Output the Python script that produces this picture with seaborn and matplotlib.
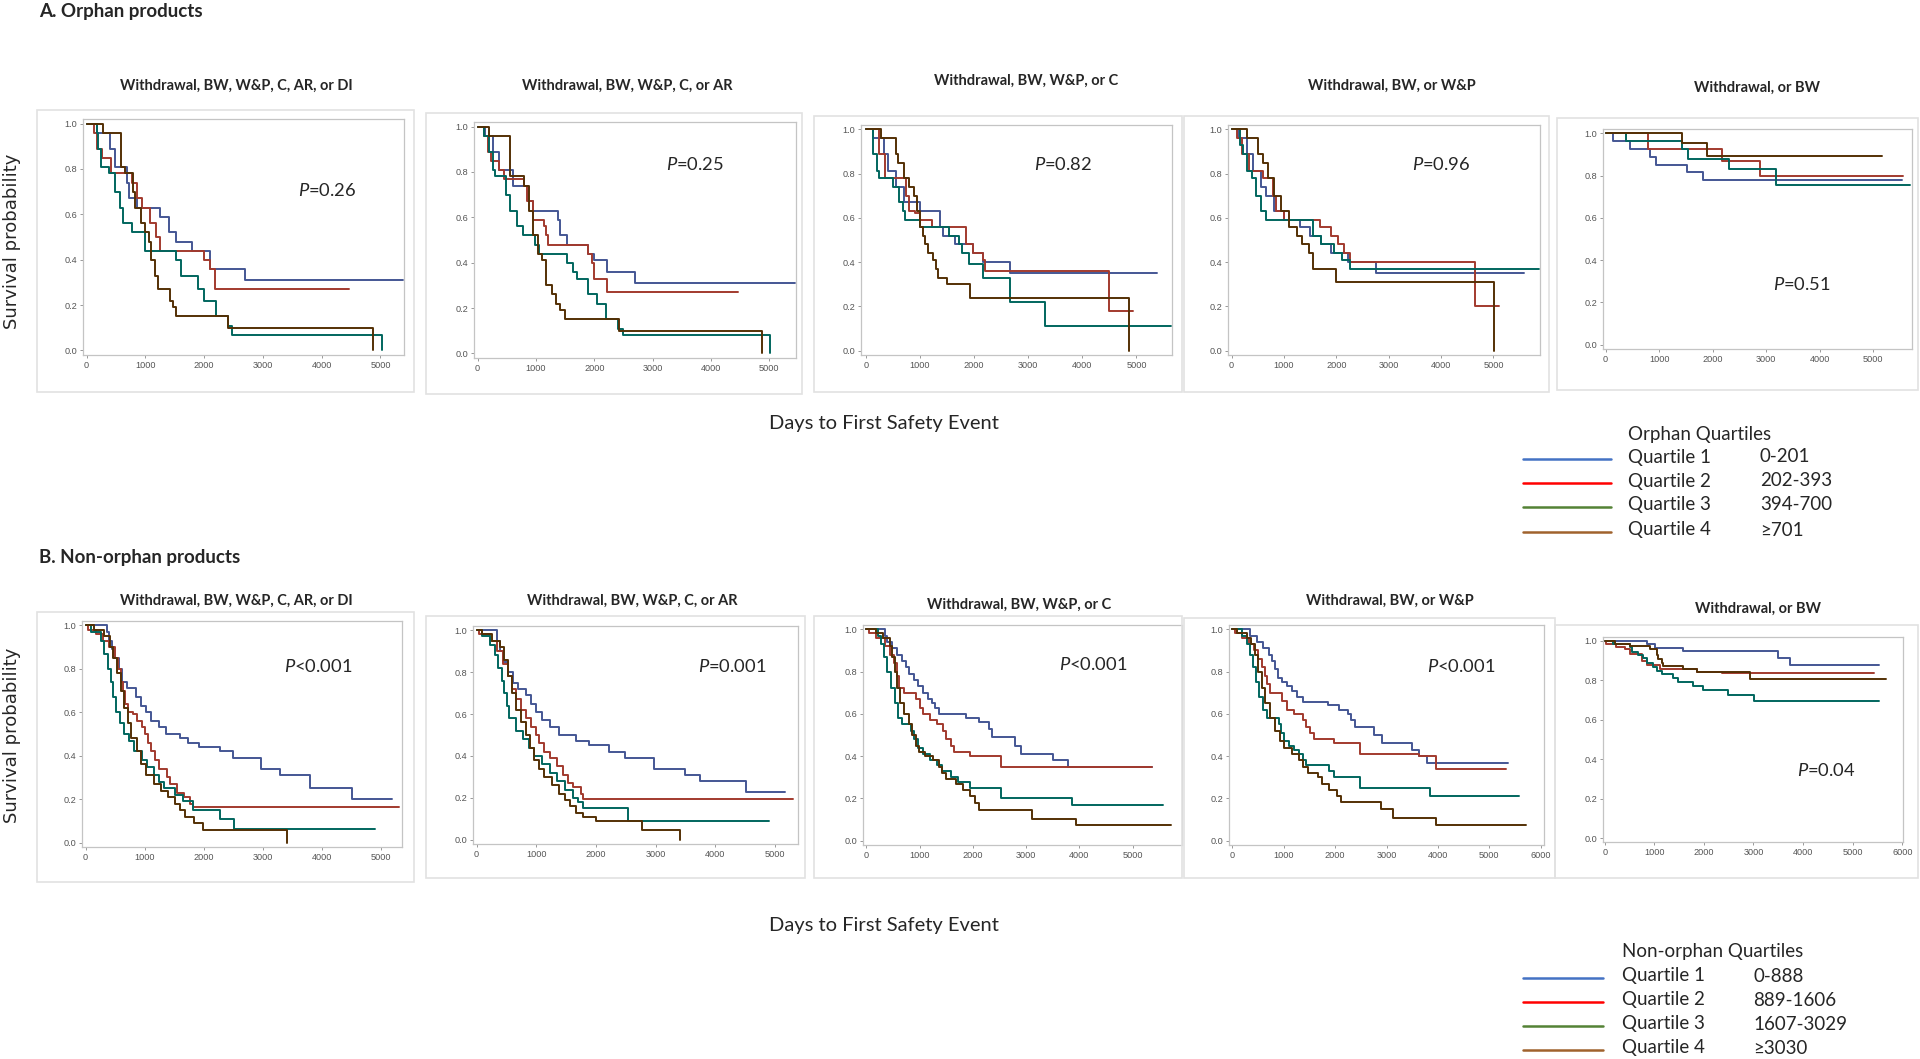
import matplotlib
matplotlib.use("Agg")
import matplotlib.pyplot as plt
from matplotlib.patches import Rectangle
from matplotlib.lines import Line2D
import pandas as pd
import seaborn as sns

# ---- Kaplan-Meier steps: (days, survival after that day) ----
# A. Orphan products
A1_Q1 = [(0, 1.0), (180, 0.96), (400, 0.89), (480, 0.81), (680, 0.74), (720, 0.67), (850, 0.63), (1250, 0.59),
         (1400, 0.52), (1520, 0.48), (1800, 0.44), (2100, 0.36), (2690, 0.31), (5390, 0.31)]
A1_Q2 = [(0, 1.0), (120, 0.96), (170, 0.89), (260, 0.85), (420, 0.78), (780, 0.74), (850, 0.67), (950, 0.63),
         (1080, 0.56), (1180, 0.50), (1250, 0.44), (2000, 0.40), (2100, 0.36), (2180, 0.27), (4460, 0.27)]
A1_Q3 = [(0, 1.0), (170, 0.96), (200, 0.89), (250, 0.81), (380, 0.78), (480, 0.70), (560, 0.63), (620, 0.56),
         (770, 0.52), (1000, 0.44), (1525, 0.40), (1600, 0.33), (1900, 0.27), (2000, 0.22), (2200, 0.15),
         (2400, 0.11), (2480, 0.07), (5020, 0.0)]
A1_Q4 = [(0, 1.0), (270, 0.96), (580, 0.81), (660, 0.78), (790, 0.70), (830, 0.63), (930, 0.56), (1000, 0.52),
         (1060, 0.48), (1100, 0.40), (1170, 0.33), (1220, 0.27), (1420, 0.22), (1470, 0.19), (1520, 0.15),
         (2400, 0.10), (4875, 0.0)]

A2_Q1 = [(0, 1.0), (120, 0.96), (260, 0.89), (370, 0.81), (600, 0.74), (860, 0.67), (950, 0.63), (1380, 0.59),
         (1420, 0.52), (1530, 0.48), (1890, 0.44), (2000, 0.41), (2220, 0.36), (2690, 0.31), (5440, 0.31)]
A2_Q2 = [(0, 1.0), (100, 0.96), (180, 0.89), (230, 0.85), (370, 0.81), (450, 0.77), (800, 0.74), (840, 0.67),
         (950, 0.59), (1130, 0.56), (1170, 0.52), (1210, 0.48), (1890, 0.44), (1960, 0.40), (2000, 0.33),
         (2220, 0.27), (4470, 0.27)]
A2_Q3 = [(0, 1.0), (100, 0.96), (190, 0.89), (260, 0.81), (300, 0.78), (480, 0.70), (560, 0.63), (680, 0.56),
         (770, 0.52), (990, 0.48), (1060, 0.44), (1530, 0.40), (1640, 0.36), (1700, 0.33), (1900, 0.26),
         (2050, 0.22), (2200, 0.15), (2400, 0.11), (2500, 0.08), (5020, 0.0)]
A2_Q4 = [(0, 1.0), (190, 0.96), (560, 0.78), (800, 0.74), (880, 0.63), (950, 0.52), (1030, 0.44), (1100, 0.41),
         (1170, 0.30), (1270, 0.26), (1350, 0.22), (1420, 0.19), (1500, 0.15), (2430, 0.10), (4870, 0.0)]

A3_Q1 = [(0, 1.0), (140, 0.96), (340, 0.89), (400, 0.81), (560, 0.74), (700, 0.67), (1000, 0.63), (1365, 0.56),
         (1420, 0.52), (1644, 0.48), (1983, 0.44), (2170, 0.40), (2660, 0.35), (5380, 0.35)]
A3_Q2 = [(0, 1.0), (250, 0.89), (347, 0.78), (740, 0.70), (800, 0.63), (900, 0.62), (1000, 0.59), (1230, 0.56),
         (1855, 0.48), (1983, 0.44), (2170, 0.41), (2210, 0.36), (4490, 0.18), (4930, 0.18)]
A3_Q3 = [(0, 1.0), (136, 0.89), (210, 0.81), (250, 0.78), (510, 0.74), (610, 0.67), (680, 0.63), (724, 0.59),
         (1003, 0.56), (1531, 0.52), (1720, 0.48), (1770, 0.44), (1900, 0.39), (2172, 0.33), (2662, 0.22),
         (3303, 0.11), (5640, 0.11)]
A3_Q4 = [(0, 1.0), (287, 0.96), (550, 0.89), (600, 0.85), (700, 0.78), (800, 0.74), (880, 0.70), (950, 0.63),
         (1000, 0.56), (1050, 0.52), (1090, 0.48), (1150, 0.44), (1240, 0.41), (1300, 0.37), (1340, 0.33),
         (1490, 0.30), (1920, 0.24), (4860, 0.0)]

A4_Q1 = [(0, 1.0), (130, 0.96), (300, 0.89), (400, 0.81), (560, 0.74), (650, 0.70), (800, 0.63), (1000, 0.59),
         (1300, 0.56), (1500, 0.52), (1700, 0.48), (1900, 0.44), (2220, 0.40), (2760, 0.35), (5580, 0.35)]
A4_Q2 = [(0, 1.0), (100, 0.96), (200, 0.89), (330, 0.81), (600, 0.78), (790, 0.70), (850, 0.63), (1000, 0.59),
         (1680, 0.56), (1900, 0.52), (2030, 0.48), (2150, 0.44), (2260, 0.40), (4640, 0.20), (5100, 0.20)]
A4_Q3 = [(0, 1.0), (150, 0.93), (220, 0.89), (300, 0.81), (380, 0.78), (460, 0.70), (560, 0.63), (650, 0.59),
         (1560, 0.52), (1700, 0.48), (1950, 0.44), (2100, 0.41), (2260, 0.37), (5880, 0.37)]
A4_Q4 = [(0, 1.0), (300, 0.96), (500, 0.89), (600, 0.85), (700, 0.78), (800, 0.70), (950, 0.63), (1100, 0.56),
         (1250, 0.52), (1350, 0.48), (1480, 0.44), (1550, 0.37), (2000, 0.31), (5020, 0.0)]

A5_Q1 = [(0, 1.0), (137, 0.963), (450, 0.926), (837, 0.889), (950, 0.852), (1525, 0.815), (1812, 0.778),
         (5544, 0.778)]
A5_Q2 = [(0, 1.0), (794, 0.926), (2181, 0.87), (2887, 0.80), (5562, 0.80)]
A5_Q3 = [(0, 1.0), (375, 0.963), (1437, 0.926), (1544, 0.88), (2306, 0.83), (3187, 0.753), (5700, 0.753)]
A5_Q4 = [(0, 1.0), (1437, 0.955), (1887, 0.893), (5169, 0.893)]

# B. Non-orphan products
B1_Q1 = [(0, 1.0), (355, 0.97), (390, 0.93), (440, 0.89), (480, 0.85), (560, 0.80), (620, 0.74), (700, 0.71),
         (860, 0.67), (930, 0.63), (1020, 0.60), (1110, 0.56), (1240, 0.53), (1360, 0.50), (1600, 0.48),
         (1730, 0.46), (1910, 0.44), (2265, 0.42), (2490, 0.39), (2975, 0.34), (3290, 0.31), (3790, 0.25),
         (4500, 0.20), (5180, 0.20)]
B1_Q2 = [(0, 1.0), (44, 0.98), (178, 0.96), (300, 0.93), (400, 0.90), (488, 0.85), (550, 0.80), (595, 0.74),
         (630, 0.70), (666, 0.64), (710, 0.60), (800, 0.59), (870, 0.56), (950, 0.53), (1004, 0.50), (1050, 0.46),
         (1110, 0.42), (1180, 0.38), (1243, 0.34), (1377, 0.30), (1420, 0.27), (1554, 0.23), (1661, 0.21),
         (1767, 0.18), (1820, 0.165), (5310, 0.165)]
B1_Q3 = [(0, 1.0), (90, 0.97), (266, 0.93), (310, 0.87), (382, 0.80), (425, 0.74), (470, 0.67), (506, 0.60),
         (577, 0.55), (648, 0.50), (737, 0.47), (826, 0.42), (950, 0.38), (1039, 0.35), (1155, 0.31), (1240, 0.28),
         (1332, 0.25), (1510, 0.22), (1643, 0.19), (1820, 0.15), (2265, 0.11), (2513, 0.065), (4900, 0.065)]
B1_Q4 = [(0, 1.0), (133, 0.98), (310, 0.95), (415, 0.90), (470, 0.85), (533, 0.78), (595, 0.70), (648, 0.62),
         (710, 0.55), (773, 0.48), (861, 0.42), (932, 0.36), (1021, 0.31), (1155, 0.27), (1270, 0.24),
         (1395, 0.21), (1510, 0.18), (1600, 0.15), (1687, 0.12), (1838, 0.09), (1980, 0.06), (3400, 0.0)]

B2_Q1 = [(0, 1.0), (349, 0.95), (390, 0.90), (436, 0.85), (524, 0.80), (611, 0.75), (700, 0.72), (829, 0.69),
         (916, 0.65), (1003, 0.61), (1090, 0.57), (1222, 0.54), (1379, 0.50), (1658, 0.47), (1876, 0.45),
         (2225, 0.42), (2487, 0.39), (2967, 0.34), (3490, 0.31), (3752, 0.28), (4520, 0.23), (5166, 0.23)]
B2_Q2 = [(0, 1.0), (44, 0.98), (218, 0.95), (349, 0.90), (436, 0.84), (524, 0.78), (593, 0.72), (654, 0.67),
         (742, 0.62), (829, 0.58), (916, 0.54), (1003, 0.50), (1047, 0.46), (1134, 0.42), (1222, 0.39),
         (1353, 0.35), (1440, 0.31), (1527, 0.27), (1614, 0.25), (1745, 0.22), (1789, 0.195), (5305, 0.195)]
B2_Q3 = [(0, 1.0), (87, 0.97), (218, 0.93), (305, 0.88), (366, 0.82), (419, 0.76), (454, 0.70), (506, 0.64),
         (541, 0.58), (654, 0.52), (785, 0.48), (873, 0.44), (960, 0.40), (1091, 0.36), (1222, 0.32), (1353, 0.28),
         (1484, 0.24), (1614, 0.20), (1702, 0.18), (1789, 0.15), (2531, 0.09), (4904, 0.09)]
B2_Q4 = [(0, 1.0), (87, 0.98), (262, 0.95), (393, 0.92), (463, 0.86), (524, 0.78), (593, 0.70), (654, 0.62),
         (742, 0.56), (829, 0.50), (890, 0.44), (960, 0.38), (1047, 0.34), (1134, 0.30), (1270, 0.26),
         (1384, 0.22), (1483, 0.19), (1570, 0.16), (1658, 0.13), (1789, 0.11), (2007, 0.09), (2775, 0.045),
         (3403, 0.0)]

B3_Q1 = [(0, 1.0), (354, 0.97), (398, 0.94), (487, 0.91), (575, 0.88), (664, 0.85), (752, 0.82), (796, 0.79),
         (903, 0.76), (973, 0.73), (1062, 0.70), (1150, 0.67), (1240, 0.65), (1283, 0.63), (1372, 0.60),
         (1876, 0.58), (2124, 0.56), (2300, 0.53), (2370, 0.49), (2788, 0.45), (2903, 0.41), (3513, 0.38),
         (3788, 0.35), (5370, 0.35)]
B3_Q2 = [(0, 1.0), (44, 0.98), (177, 0.96), (354, 0.92), (442, 0.88), (513, 0.84), (575, 0.78), (620, 0.72),
         (708, 0.70), (929, 0.67), (1000, 0.63), (1062, 0.60), (1195, 0.57), (1327, 0.55), (1442, 0.52),
         (1504, 0.48), (1593, 0.45), (1650, 0.42), (1947, 0.40), (2522, 0.35), (5370, 0.35)]
B3_Q3 = [(0, 1.0), (221, 0.97), (283, 0.93), (336, 0.87), (398, 0.80), (460, 0.72), (531, 0.65), (602, 0.58),
         (664, 0.55), (841, 0.52), (903, 0.48), (973, 0.44), (1062, 0.41), (1195, 0.38), (1327, 0.36),
         (1416, 0.33), (1593, 0.30), (1726, 0.28), (1947, 0.25), (2522, 0.20), (3867, 0.17), (5575, 0.17)]
B3_Q4 = [(0, 1.0), (177, 0.98), (310, 0.96), (442, 0.92), (487, 0.87), (531, 0.80), (575, 0.72), (637, 0.65),
         (708, 0.60), (796, 0.55), (867, 0.50), (929, 0.45), (991, 0.42), (1106, 0.40), (1256, 0.38), (1372, 0.35),
         (1416, 0.32), (1504, 0.29), (1681, 0.27), (1814, 0.24), (1947, 0.21), (2035, 0.18), (2124, 0.145),
         (3115, 0.105), (3938, 0.075), (5726, 0.075)]

B4_Q1 = [(0, 1.0), (341, 0.97), (488, 0.94), (599, 0.91), (710, 0.88), (765, 0.85), (829, 0.81), (894, 0.77),
         (968, 0.75), (1060, 0.73), (1152, 0.71), (1263, 0.68), (1382, 0.655), (1871, 0.64), (2074, 0.62),
         (2258, 0.60), (2304, 0.57), (2396, 0.54), (2765, 0.50), (2903, 0.46), (3502, 0.43), (3641, 0.40),
         (3779, 0.37), (5373, 0.37)]
B4_Q2 = [(0, 1.0), (46, 0.98), (184, 0.96), (323, 0.93), (415, 0.90), (507, 0.86), (581, 0.82), (627, 0.78),
         (673, 0.74), (737, 0.70), (968, 0.66), (1060, 0.62), (1198, 0.60), (1382, 0.57), (1429, 0.54),
         (1502, 0.51), (1594, 0.48), (1982, 0.46), (2488, 0.41), (3641, 0.40), (3963, 0.34), (5318, 0.34)]
B4_Q3 = [(0, 1.0), (184, 0.97), (277, 0.93), (341, 0.88), (396, 0.82), (461, 0.75), (525, 0.68), (599, 0.62),
         (673, 0.58), (899, 0.55), (954, 0.51), (1014, 0.47), (1106, 0.45), (1198, 0.43), (1290, 0.41),
         (1382, 0.38), (1429, 0.36), (1889, 0.33), (1982, 0.30), (2488, 0.25), (3853, 0.21), (5576, 0.21)]
B4_Q4 = [(0, 1.0), (92, 0.98), (277, 0.96), (369, 0.93), (433, 0.88), (507, 0.80), (581, 0.72), (645, 0.65),
         (737, 0.58), (829, 0.52), (922, 0.47), (1014, 0.44), (1152, 0.41), (1290, 0.38), (1382, 0.35),
         (1475, 0.32), (1659, 0.30), (1751, 0.27), (1889, 0.24), (2028, 0.21), (2120, 0.185), (2885, 0.15),
         (3134, 0.11), (3963, 0.075), (5714, 0.075)]

B5_Q1 = [(0, 1.0), (843, 0.985), (1011, 0.965), (1585, 0.948), (3493, 0.915), (3729, 0.878), (5529, 0.878)]
B5_Q2 = [(0, 1.0), (34, 0.985), (236, 0.97), (400, 0.96), (506, 0.935), (742, 0.90), (843, 0.88), (1113, 0.86),
         (1854, 0.84), (2360, 0.835), (5428, 0.835)]
B5_Q3 = [(0, 1.0), (170, 0.985), (506, 0.97), (540, 0.945), (674, 0.93), (776, 0.915), (843, 0.89), (978, 0.87),
         (1045, 0.85), (1146, 0.83), (1382, 0.81), (1483, 0.79), (1787, 0.77), (1976, 0.75), (2495, 0.725),
         (3001, 0.695), (5529, 0.695)]
B5_Q4 = [(0, 1.0), (202, 0.985), (506, 0.975), (910, 0.96), (1045, 0.93), (1080, 0.91), (1146, 0.89),
         (1180, 0.875), (1571, 0.86), (1854, 0.84), (2933, 0.805), (5664, 0.805)]

panel_titles = ["Withdrawal, BW, W&P, C, AR, or DI", "Withdrawal, BW, W&P, C, or AR",
                "Withdrawal, BW, W&P, or C", "Withdrawal, BW, or W&P", "Withdrawal, or BW"]
p_orphan = ["$\\mathit{P}$=0.26", "$\\mathit{P}$=0.25", "$\\mathit{P}$=0.82", "$\\mathit{P}$=0.96", "$\\mathit{P}$=0.51"]
p_nonorphan = ["$\\mathit{P}$<0.001", "$\\mathit{P}$=0.001", "$\\mathit{P}$<0.001", "$\\mathit{P}$<0.001",
               "$\\mathit{P}$=0.04"]
quartiles = ["Quartile 1", "Quartile 2", "Quartile 3", "Quartile 4"]
orphan_ranges = ["0-201", "202-393", "394-700", "\u2265701"]
nonorphan_ranges = ["0-888", "889-1606", "1607-3029", "\u22653030"]

orphan_panels = [[A1_Q1, A1_Q2, A1_Q3, A1_Q4], [A2_Q1, A2_Q2, A2_Q3, A2_Q4], [A3_Q1, A3_Q2, A3_Q3, A3_Q4],
                 [A4_Q1, A4_Q2, A4_Q3, A4_Q4], [A5_Q1, A5_Q2, A5_Q3, A5_Q4]]
nonorphan_panels = [[B1_Q1, B1_Q2, B1_Q3, B1_Q4], [B2_Q1, B2_Q2, B2_Q3, B2_Q4], [B3_Q1, B3_Q2, B3_Q3, B3_Q4],
                    [B4_Q1, B4_Q2, B4_Q3, B4_Q4], [B5_Q1, B5_Q2, B5_Q3, B5_Q4]]

km_colors = dict(zip(quartiles, ["#445694", "#A23A2E", "#01665E", "#543005"]))
legend_colors = ["#4472C4", "#FF0000", "#548235", "#A0622D"]

# ---- layout (pixel boxes in a 1920x1059 canvas) ----
W, H = 1920, 1059
A_boxes = [(83, 119, 404, 355), (474, 122, 796, 358), (861, 125, 1172, 355), (1228, 125, 1540, 355),
           (1603, 129, 1912, 349)]
A_xlims = [(-62, 5400), (-63, 5460), (-90, 5656), (-70, 5890), (-50, 5730)]
A_xtop = [5000, 5000, 5000, 5000, 5000]
A_frames = [(37, 110, 414, 392), (426, 113, 802, 394), (814, 116, 1182, 392), (1184, 116, 1549, 392),
            (1557, 118, 1918, 390)]
A_title_xy = [(236, 86), (627, 86), (1026, 81), (1392, 86), (1757, 88)]
A_p_xy = [(327, 190), (695, 165), (1063, 165), (1441, 165), (1802, 284)]

B_boxes = [(82, 621, 402, 847), (473, 626, 798, 844), (863, 625, 1182, 845), (1229, 625, 1544, 845),
           (1603, 637, 1903, 842)]
B_xlims = [(-62, 5353), (-61, 5389), (-62, 5929), (-65, 6065), (-35, 6015)]
B_xtop = [5000, 5000, 5000, 6000, 6000]
B_frames = [(37, 612, 414, 882), (426, 616, 805, 878), (814, 616, 1182, 878), (1184, 618, 1555, 878),
            (1555, 625, 1918, 878)]
B_title_xy = [(236, 601), (632, 601), (1019, 605), (1390, 601), (1758, 609)]
B_p_xy = [(318, 666), (732, 666), (1093, 665), (1461, 666), (1826, 771)]

sns.set_style("ticks")
plt.rcParams["font.family"] = ["Lato", "DejaVu Sans"]
plt.rcParams["mathtext.fontset"] = "custom"
plt.rcParams["mathtext.it"] = "Lato:italic"
plt.rcParams["mathtext.rm"] = "Lato"

fig = plt.figure(figsize=(19.2, 10.59), dpi=100)


def fx(x):
    return x / W


def fy(y):
    return 1 - y / H


def draw_panel(curves, box, xlim, xtop, frame):
    x0, y0, x1, y1 = frame
    fig.patches.append(Rectangle((fx(x0), fy(y1)), fx(x1 - x0), (y1 - y0) / H, transform=fig.transFigure,
                                 fill=False, edgecolor="#e2e2e2", linewidth=1.2, zorder=0))
    bx0, by0, bx1, by1 = box
    ax = fig.add_axes([fx(bx0), fy(by1), fx(bx1 - bx0), (by1 - by0) / H])
    rows = [(t, s, q) for q, steps in zip(quartiles, curves) for t, s in steps]
    df = pd.DataFrame(rows, columns=["days", "surv", "quartile"])
    sns.lineplot(data=df, x="days", y="surv", hue="quartile", palette=km_colors, drawstyle="steps-post",
                 sort=False, estimator=None, errorbar=None, legend=False, linewidth=1.4, ax=ax)
    ax.set_xlim(xlim)
    ax.set_ylim(-0.02, 1.02)
    ax.set_xticks(range(0, xtop + 1, 1000))
    ax.set_yticks([0, 0.2, 0.4, 0.6, 0.8, 1.0])
    ax.set_yticklabels(["0.0", "0.2", "0.4", "0.6", "0.8", "1.0"])
    ax.set_xlabel("")
    ax.set_ylabel("")
    ax.tick_params(length=2.5, width=0.6, color="#888888", labelcolor="#555555", labelsize=6.6, pad=1.5)
    for lbl in ax.get_xticklabels() + ax.get_yticklabels():
        lbl.set_fontfamily("Liberation Sans")
    for sp in ax.spines.values():
        sp.set_visible(True)
        sp.set_color("#c4c4c4")
        sp.set_linewidth(0.9)
    return ax


for i in range(5):
    ax = draw_panel(orphan_panels[i], A_boxes[i], A_xlims[i], A_xtop[i], A_frames[i])
    fig.text(fx(A_title_xy[i][0]), fy(A_title_xy[i][1]), panel_titles[i], ha="center", va="center",
             fontsize=10.5, fontweight="bold")
    fig.text(fx(A_p_xy[i][0]), fy(A_p_xy[i][1]), p_orphan[i], ha="center", va="center", fontsize=13.2)

    ax = draw_panel(nonorphan_panels[i], B_boxes[i], B_xlims[i], B_xtop[i], B_frames[i])
    fig.text(fx(B_title_xy[i][0]), fy(B_title_xy[i][1]), panel_titles[i], ha="center", va="center",
             fontsize=10.5, fontweight="bold")
    fig.text(fx(B_p_xy[i][0]), fy(B_p_xy[i][1]), p_nonorphan[i], ha="center", va="center", fontsize=13.2)

# section headings and shared axis labels
fig.text(fx(39), fy(11), "A. Orphan products", ha="left", va="center", fontsize=13.5, fontweight="bold")
fig.text(fx(39), fy(558), "B. Non-orphan products", ha="left", va="center", fontsize=13.5, fontweight="bold")
for yc in (241, 735):
    fig.text(fx(12), fy(yc), "Survival probability", rotation=90, ha="center", va="center",
             fontsize=13, family="DejaVu Sans")
for yc in (424, 926):
    fig.text(fx(884), fy(yc), "Days to First Safety Event", ha="center", va="center", fontsize=14.5)

# legends
def draw_legend(title, ranges, title_y, row_ys, line_x, text_x, range_x):
    fig.text(fx(text_x), fy(title_y), title, ha="left", va="center", fontsize=13.5)
    for q, rng, col, yy in zip(quartiles, ranges, legend_colors, row_ys):
        fig.lines.append(Line2D([fx(line_x[0]), fx(line_x[1])], [fy(yy + 2), fy(yy + 2)],
                                transform=fig.transFigure, color=col, linewidth=1.8))
        fig.text(fx(text_x), fy(yy), q, ha="left", va="center", fontsize=13.5)
        fig.text(fx(range_x), fy(yy), rng, ha="left", va="center", fontsize=13.5)


draw_legend("Orphan Quartiles", orphan_ranges, 434, [457, 481, 505, 530], (1523, 1611), 1628, 1760)
draw_legend("Non-orphan Quartiles", nonorphan_ranges, 952, [976, 1000, 1024, 1048], (1523, 1603), 1622, 1753)

fig.savefig("out.png", dpi=100)
